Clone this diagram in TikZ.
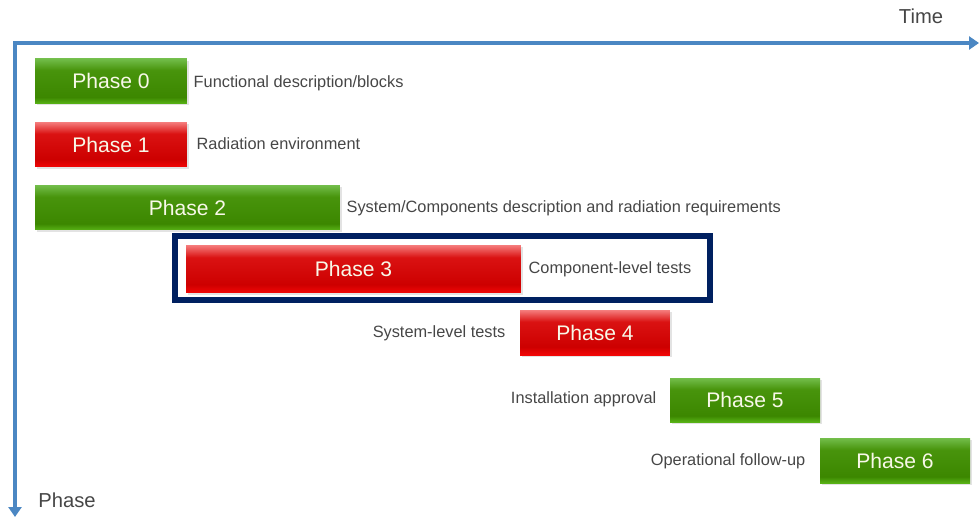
\documentclass[tikz,border=0pt]{standalone}
\usepackage{fontspec}
\setmainfont{Liberation Sans}
\usetikzlibrary{arrows.meta,positioning,shadows}

\definecolor{axisblue}{RGB}{75,135,195}
\definecolor{framenavy}{RGB}{0,32,96}
\definecolor{txtgray}{RGB}{70,70,70}
\definecolor{bartext}{RGB}{248,248,232}
% verde
\definecolor{gtop}{RGB}{115,190,75}
\definecolor{gmidup}{RGB}{72,148,12}
\definecolor{gmid}{RGB}{60,135,0}
\definecolor{gbot}{RGB}{88,178,22}
% rojo
\definecolor{rtop}{RGB}{245,125,125}
\definecolor{rmidup}{RGB}{218,18,18}
\definecolor{rmid}{RGB}{205,0,0}
\definecolor{rbot}{RGB}{242,6,6}
\pgfdeclareverticalshading{greenfill}{100bp}{color(0bp)=(gbot); color(25bp)=(gbot);
  color(32bp)=(gmid); color(62bp)=(gmidup); color(75bp)=(gtop); color(100bp)=(gtop)}
\pgfdeclareverticalshading{redfill}{100bp}{color(0bp)=(rbot); color(25bp)=(rbot);
  color(34bp)=(rmid); color(62bp)=(rmidup); color(75bp)=(rtop); color(100bp)=(rtop)}

\begin{document}
\begin{tikzpicture}[x=0.02cm,y=-0.02cm,
  bar/.style={minimum height=0.9cm,inner sep=0pt,text=bartext,
    font=\fontsize{12}{14}\selectfont,
    drop shadow={opacity=0.22,shadow xshift=0.04cm,shadow yshift=-0.04cm}},
  greenbar/.style={bar,shading=greenfill},
  redbar/.style={bar,shading=redfill},
  desc/.style={inner sep=0pt,text height=0.72em,text depth=0.2em,text=txtgray,
    font=\fontsize{9.3}{11}\selectfont},
  axislabel/.style={inner sep=0pt,text=txtgray,font=\fontsize{11.5}{13}\selectfont},
  axisline/.style={axisblue,line width=0.08cm,-{Triangle[length=0.2cm,width=0.26cm]}}]
  \useasboundingbox (0,0) rectangle (979,517);
  % ejes
  \coordinate (origin) at (15,43);
  \coordinate (tend) at (979,43);
  \coordinate (pend) at (15,517);
  \draw[axisline] ([xshift=-0.04cm]origin) -- (tend);
  \draw[axisline] (origin) -- (pend);
  \node[axislabel] (time) at (921,16) {Time};
  \node[axislabel] (phase) at (67,500) {Phase};
  % fases
  \node[greenbar,minimum width=3.04cm] (p0) at (111,81) {Phase 0};
  \node[desc,right=0.12cm of p0,yshift=-0.04cm] (d0) {Functional description/blocks};
  \node[redbar,minimum width=3.04cm] (p1) at (111,144.5) {Phase 1};
  \node[desc,right=0.18cm of p1] (d1) {Radiation environment};
  \node[greenbar,minimum width=6.1cm] (p2) at (187.5,207.5) {Phase 2};
  \node[desc,right=0.12cm of p2] (d2) {System/Components description and radiation requirements};
  \node[redbar,minimum width=6.7cm,minimum height=0.96cm] (p3) at (353.5,269) {Phase 3};
  \node[desc,right=0.14cm of p3] (d3) {Component-level tests};
  \node[redbar,minimum width=3cm] (p4) at (595,332.5) {Phase 4};
  \node[desc,left=0.28cm of p4] (d4) {System-level tests};
  \node[greenbar,minimum width=3cm,minimum height=0.88cm] (p5) at (745,400) {Phase 5};
  \node[desc,left=0.26cm of p5,yshift=0.03cm] (d5) {Installation approval};
  \node[greenbar,minimum width=3cm] (p6) at (895,460.5) {Phase 6};
  \node[desc,left=0.28cm of p6] (d6) {Operational follow-up};
  % marco fase 3
  \draw[framenavy,line width=0.12cm]
    ([xshift=-0.22cm,yshift=0.18cm]p3.north west) rectangle ([xshift=3.78cm,yshift=-0.14cm]p3.south east);
\end{tikzpicture}
\end{document}
